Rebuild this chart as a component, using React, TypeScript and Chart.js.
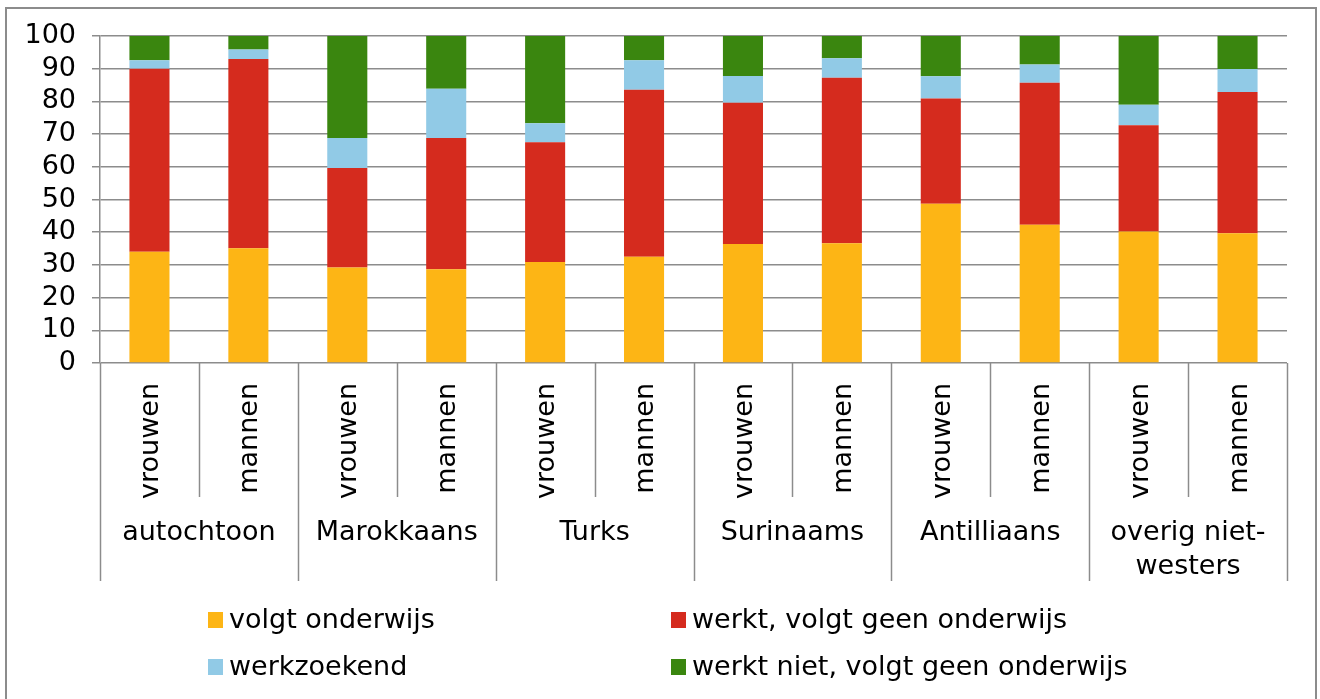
import React, { useEffect, useRef } from "react";
import { Chart, registerables } from "chart.js";
Chart.register(...registerables);

const barLabels = ["vrouwen", "mannen", "vrouwen", "mannen", "vrouwen", "mannen", "vrouwen", "mannen", "vrouwen", "mannen", "vrouwen", "mannen"];
const groupLabels = [["autochtoon"], ["Marokkaans"], ["Turks"], ["Surinaams"], ["Antilliaans"], ["overig niet-", "westers"]];

const volgtOnderwijs = [34.0, 35.1, 29.2, 28.7, 30.9, 32.5, 36.4, 36.6, 48.7, 42.3, 40.2, 39.7];
const werktGeenOnderwijs = [56.0, 57.9, 30.4, 40.1, 36.6, 51.1, 43.2, 50.6, 32.2, 43.4, 32.5, 43.2];
const werkzoekend = [2.6, 2.9, 9.2, 15.1, 5.8, 9.0, 8.2, 6.0, 6.8, 5.6, 6.3, 7.0];
const werktNiet = [7.4, 4.1, 31.2, 16.1, 26.7, 7.4, 12.2, 6.8, 12.3, 8.7, 21.0, 10.1];

const yTicks = [0, 10, 20, 30, 40, 50, 60, 70, 80, 90, 100];

const seriesNames = ["volgt onderwijs", "werkt, volgt geen onderwijs", "werkzoekend", "werkt niet, volgt geen onderwijs"];
const seriesColors = ["#FDB515", "#D52B1E", "#91CAE6", "#3A860F"];

const FONT = "'DejaVu Sans', Verdana, sans-serif";
const FONT_SIZE = 27;
const LINE = "#8c8c8c";

const xLabelsPlugin = {
  id: "xlabels",
  afterDraw(chart: any) {
    const { ctx, chartArea, scales } = chart;
    const x = scales.x;
    const n = barLabels.length;
    const step = x.getPixelForValue(1) - x.getPixelForValue(0);
    const start = x.getPixelForValue(0) - step / 2;
    const b = chartArea.bottom;
    ctx.save();
    ctx.strokeStyle = LINE;
    ctx.lineWidth = 1.5;
    for (let i = 0; i <= n; i++) {
      const px = Math.round(start + i * step) + 0.5;
      const end = i % 2 === 0 ? b + 218 : b + 134;
      ctx.beginPath();
      ctx.moveTo(px, b);
      ctx.lineTo(px, end);
      ctx.stroke();
    }
    ctx.fillStyle = "#000";
    ctx.font = `${FONT_SIZE}px ${FONT}`;
    for (let i = 0; i < n; i++) {
      const cx = x.getPixelForValue(i);
      ctx.save();
      ctx.translate(cx + 2, b + 20);
      ctx.rotate(-Math.PI / 2);
      ctx.textAlign = "right";
      ctx.textBaseline = "middle";
      ctx.fillText(barLabels[i], 0, 0);
      ctx.restore();
    }
    ctx.textAlign = "center";
    ctx.textBaseline = "middle";
    groupLabels.forEach((lines, g) => {
      const cx = (x.getPixelForValue(g * 2) + x.getPixelForValue(g * 2 + 1)) / 2;
      lines.forEach((t, k) => ctx.fillText(t, cx, b + 170 + k * 34));
    });
    // legend
    const cols = [208, 671];
    const rows = [620, 667];
    chart.data.datasets.forEach((ds: any, i: number) => {
      const bx = cols[i % 2];
      const by = rows[Math.floor(i / 2)];
      ctx.fillStyle = ds.backgroundColor;
      ctx.fillRect(bx, by - 8, 15, 16);
      ctx.fillStyle = "#000";
      ctx.textAlign = "left";
      ctx.fillText(ds.label, bx + 21, by + 1);
    });
    ctx.restore();
  },
};

export default function App() {
  const ref = useRef<HTMLCanvasElement>(null);
  useEffect(() => {
    if (!ref.current) return;
    const data = [volgtOnderwijs, werktGeenOnderwijs, werkzoekend, werktNiet];
    const chart = new Chart(ref.current, {
      type: "bar",
      data: {
        labels: barLabels,
        datasets: data.map((d, i) => ({
          label: seriesNames[i],
          data: d,
          backgroundColor: seriesColors[i],
          barPercentage: 0.405,
          categoryPercentage: 1,
        })),
      },
      options: {
        animation: false,
        responsive: false,
        maintainAspectRatio: false,
        layout: { padding: { top: 36, right: 33, bottom: 0, left: 0 } },
        plugins: { legend: { display: false }, tooltip: { enabled: false } },
        scales: {
          x: {
            stacked: true,
            ticks: { display: false },
            grid: { display: false },
            border: { display: false },
            afterFit: (s: any) => {
              s.height = 336;
            },
          },
          y: {
            stacked: true,
            min: 0,
            max: 100,
            afterBuildTicks: (s: any) => {
              s.ticks = yTicks.map((v) => ({ value: v }));
            },
            afterFit: (s: any) => {
              s.width = 100;
            },
            ticks: {
              color: "#000",
              padding: 16,
              autoSkip: false,
              stepSize: 10,
              font: { family: FONT, size: FONT_SIZE },
            },
            grid: { color: LINE, lineWidth: 1.5, tickLength: 8, drawTicks: true },
            border: { display: true, color: LINE, width: 1.5 },
          },
        },
      },
      plugins: [xLabelsPlugin],
    });
    return () => chart.destroy();
  }, []);
  return (
    <div style={{ position: "absolute", left: 0, top: 0, width: 1320, height: 699, background: "#fff", overflow: "hidden" }}>
      <div
        style={{
          position: "absolute",
          left: 5,
          top: 7,
          width: 1312,
          height: 710,
          boxSizing: "border-box",
          border: "2px solid #8c8c8c",
          pointerEvents: "none",
        }}
      />
      <canvas ref={ref} width={1320} height={699} style={{ position: "absolute", left: 0, top: 0, display: "block" }} />
    </div>
  );
}
